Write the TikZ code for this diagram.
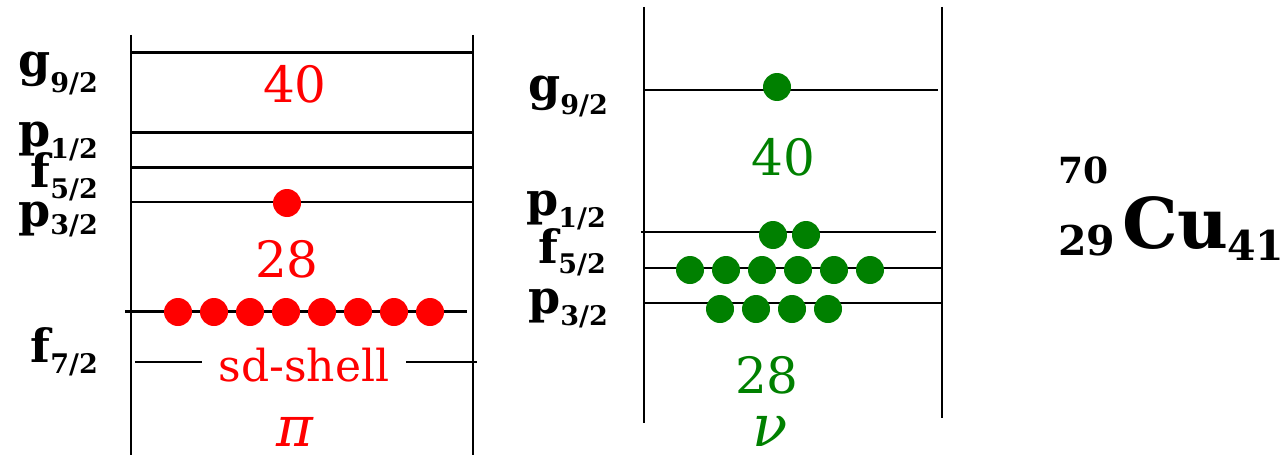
\documentclass[tikz,border=0pt]{standalone}
\usepackage{fontspec}
\setmainfont{DejaVu Serif}
\definecolor{nured}{RGB}{255,0,0}
\definecolor{nugreen}{RGB}{0,128,0}
\newcommand{\orblab}[3][-12pt]{#2\raisebox{#1}{\fontsize{27}{27}\selectfont #3}}
\tikzset{
  lvl/.style={line width=2.6pt, black},
  wall/.style={line width=2.8pt, black},
  lab/.style={inner sep=0pt, anchor=base east, font=\fontsize{46}{46}\selectfont\bfseries},
  num/.style={inner sep=0pt, anchor=base, font=\fontsize{50}{50}\selectfont},
  pdot/.style={fill=nured},
  ndot/.style={fill=nugreen},
  iso/.style={inner sep=0pt, anchor=base west, font=\bfseries}
}
\begin{document}
\begin{tikzpicture}[x=1pt,y=-1pt]
\useasboundingbox (0,0) rectangle (1284,460);
% ---------- proton panel ----------
\draw[wall] (131,35) -- (131,455);
\draw[wall] (473,35) -- (473,455);
\draw[lvl] (131,52.5) -- (473,52.5);
\draw[lvl] (131,132.5) -- (473,132.5);
\draw[lvl] (131,167.5) -- (473,167.5);
\draw[lvl] (131,202) -- (473,202);
\draw[lvl] (125,311.5) -- (467,311.5);
\draw[lvl] (135,362) -- (202,362);
\draw[lvl] (406,362) -- (477,362);
\fill[pdot] (287,203) circle (14);
\foreach \x in {178,214,250,286,322,358,394,430}
  \fill[pdot] (\x,312) circle (14);
\node[num, text=nured] (p40) at (295,102) {40};
\node[num, text=nured] (p28) at (287,277) {28};
\node[inner sep=0pt, anchor=base, text=nured, font=\fontsize{44}{44}\selectfont] (sd) at (304,381) {sd-shell};
\node[inner sep=0pt, anchor=base, text=nured, font=\fontsize{56}{56}\selectfont\itshape] (pi) at (295,446) {π};
\node[lab] (pg9) at (98,77) {\orblab[-16pt]{g}{9/2}};
\node[lab] (pp1) at (98,146) {\orblab{p}{1/2}};
\node[lab] (pf5) at (98,187) {\orblab[-11pt]{f}{5/2}};
\node[lab] (pp3) at (98,226) {\orblab[-8pt]{p}{3/2}};
\node[lab] (pf7) at (98,362) {\orblab[-11pt]{f}{7/2}};
% ---------- neutron panel ----------
\draw[wall] (644,7) -- (644,423);
\draw[wall] (942,7) -- (942,418);
\draw[lvl] (644,90) -- (938,90);
\draw[lvl] (641,232) -- (936,232);
\draw[lvl] (644,268) -- (942,268);
\draw[lvl] (644,303) -- (942,303);
\fill[ndot] (777,87) circle (14);
\foreach \x in {773,806}
  \fill[ndot] (\x,235) circle (14);
\foreach \x in {690,726,762,798,834,870}
  \fill[ndot] (\x,270) circle (14);
\foreach \x in {720,756,792,828}
  \fill[ndot] (\x,309) circle (14);
\node[num, text=nugreen] (n40) at (783,175) {40};
\node[num, text=nugreen] (n28) at (767,393) {28};
\node[inner sep=0pt, anchor=base, text=nugreen, font=\fontsize{58}{58}\selectfont\itshape] (nu) at (770,446) {ν};
\node[lab] (ng9) at (608,100) {\orblab[-14pt]{g}{9/2}};
\node[lab] (np1) at (606,215) {\orblab{p}{1/2}};
\node[lab] (nf5) at (606,263) {\orblab[-10pt]{f}{5/2}};
\node[lab] (np3) at (608,313) {\orblab{p}{3/2}};
% ---------- isotope ----------
\node[iso, font=\fontsize{36}{36}\selectfont\bfseries] (A) at (1058,183) {70};
\node[iso, font=\fontsize{41}{41}\selectfont\bfseries] (Z) at (1058,255) {29};
\node[iso, font=\fontsize{70}{70}\selectfont\bfseries] (Cu) at (1122,248) {Cu};
\node[iso, font=\fontsize{41}{41}\selectfont\bfseries] (N) at (1227,260) {41};
\end{tikzpicture}
\end{document}
